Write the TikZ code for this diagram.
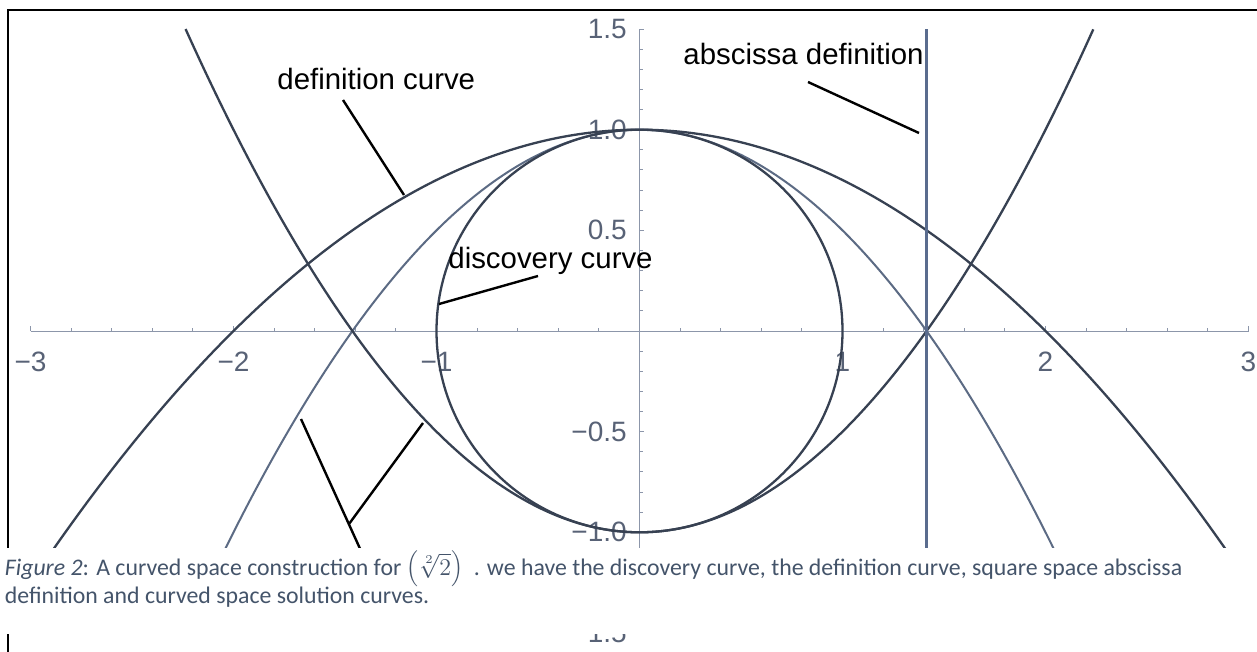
\documentclass[tikz,border=0pt]{standalone}
\usepackage{fontspec}
\setmainfont{Carlito}
\newfontfamily\arialfont{Liberation Sans}
\usepackage{xcolor}
\usepackage{tikz}
\usetikzlibrary{positioning,calc}

\definecolor{curvedark}{RGB}{55,65,82}
\definecolor{curvelight}{RGB}{92,107,132}
\definecolor{abscline}{RGB}{90,108,142}
\definecolor{axisgray}{RGB}{140,150,170}
\definecolor{ticktext}{RGB}{88,98,118}
\definecolor{captioncol}{RGB}{68,84,106}

\begin{document}
\begin{tikzpicture}[
    x=0.5pt, y=-0.5pt,
    darkcurve/.style ={draw=curvedark, line width=1.15pt},
    lightcurve/.style={draw=curvelight, line width=1pt},
    abscissa/.style  ={draw=abscline, line width=1.3pt},
    axisline/.style  ={draw=axisgray, line width=0.5pt},
    leader/.style    ={draw=black, line width=1.2pt},
    annot/.style     ={font=\arialfont\fontsize{14.7}{17}\selectfont, inner sep=0pt, anchor=base west},
    ticklab/.style   ={font=\arialfont\fontsize{14}{16}\selectfont, text=ticktext, inner sep=0pt},
    captext/.style   ={font=\fontsize{11.9}{14}\selectfont, text=captioncol, inner sep=0pt, anchor=base west}
]
\useasboundingbox (0,0) rectangle (1257,652);
\fill[white] (0,0) rectangle (1257,652);

% --- Frame ---
\draw[line width=1pt] (8,652) -- (8,10.5) -- (1257,10.5);

% --- Plot (math coordinates) ---
\begin{scope}[shift={(639.5,331)}, x=101.5pt, y=100.65pt]
  % axes
  \draw[axisline] (-3,0) -- (3,0);
  \draw[axisline] (0,-1.5) -- (0,1.5);
  \foreach \i in {-15,...,15}
    \draw[axisline] (\i/5,0) -- ++(0pt,1.4pt);
  \foreach \i in {-3,...,3}
    \draw[axisline] (\i,0) -- ++(0pt,2.5pt);
  \foreach \i in {-15,...,15}
    \draw[axisline] (0,\i/10) -- ++(1.6pt,0pt);
  \foreach \i in {-3,...,3}
    \draw[axisline] (0,\i/2) -- ++(2.4pt,0pt);

  % tick labels
  \foreach \v/\t in {-3/−3,-2/−2,-1/−1,1/1,2/2,3/3}
    \node[ticklab, anchor=north] (xl\v) at (\v,0) [yshift=-10.5pt] {\t};
  \foreach \v/\t in {1.5/1.5,1/1.0,0.5/0.5,-0.5/−0.5,-1/−1.0,-1.5/−1.5}
    \node[ticklab, anchor=east] (yl\v) at (0,\v) [xshift=-6.2pt] {\t};

  % curves
  \draw[darkcurve] plot[domain=-3:3, samples=121, smooth] (\x, {1-\x*\x/4});
  \draw[lightcurve] plot[domain=-2.2361:2.2361, samples=121, smooth] (\x, {1-\x*\x/2});
  \draw[darkcurve] plot[domain=-2.2361:2.2361, samples=121, smooth] (\x, {\x*\x/2-1});
  \draw[darkcurve] (0,0) ellipse [x radius=1, y radius=1];
  \draw[abscissa] ({sqrt(2)},-1.5) -- ({sqrt(2)},1.5);
\end{scope}

% --- Annotations ---
\node[annot] (deflab)  at (277,90)  {definition curve};
\node[annot] (abslab)  at (683,65)  {abscissa definition};
\node[annot] (disclab) at (448,268) {discovery curve};

\coordinate (def-s)  at (343,100);
\coordinate (def-e)  at (404,195);
\coordinate (abs-s)  at (808,82);
\coordinate (abs-e)  at (919,133);
\coordinate (disc-s) at (538,276);
\coordinate (disc-e) at (439,304);
\coordinate (sol-a)  at (301,419);
\coordinate (sol-b)  at (362,553);
\coordinate (sol-c)  at (423,423);
\coordinate (sol-j)  at (349,524);

\draw[leader] (def-s) -- (def-e);
\draw[leader] (abs-s) -- (abs-e);
\draw[leader] (disc-s) -- (disc-e);
\draw[leader] (sol-a) -- (sol-b);
\draw[leader] (sol-c) -- (sol-j);

% --- Caption over the figure ---
\fill[white] (0,548) rectangle (1257,634);
\node[captext] (cap1) at (4.5,575) {\textit{Figure 2}: A curved space construction for $\left(\sqrt[2]{2}\right)$~ . we have the discovery curve, the definition curve, square space abscissa};
\node[captext] (cap2) at (4.5,603) {definition and curved space solution curves.};

\end{tikzpicture}
\end{document}
